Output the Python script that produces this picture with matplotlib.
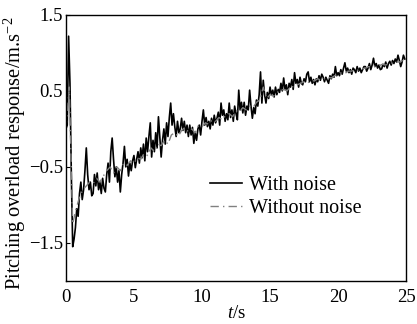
import numpy as np
import matplotlib
matplotlib.use("Agg")
import matplotlib.pyplot as plt

plt.rcParams['font.family'] = ['Liberation Serif', 'DejaVu Serif']
plt.rcParams['mathtext.fontset'] = 'custom'
plt.rcParams['mathtext.rm'] = 'Liberation Serif'
plt.rcParams['mathtext.it'] = 'Liberation Serif:italic'

# with noise, sampled every 0.1 s (one row per second)
with_noise = [
    0.00, 0.05, 1.22, 0.60, -0.60, -1.55, -1.45, -1.30, -1.05, -1.15,
    -0.85, -0.70, -0.93, -0.80, -0.55, -0.25, -0.60, -0.80, -0.70, -0.88,
    -0.85, -0.60, -0.75, -0.58, -0.80, -0.70, -0.85, -0.65, -0.78, -0.83,
    -0.60, -0.45, -0.70, -0.30, -0.12, -0.40, -0.63, -0.50, -0.70, -0.55,
    -0.83, -0.60, -0.45, -0.23, -0.50, -0.40, -0.62, -0.45, -0.55, -0.42,
    -0.35, -0.51, -0.40, -0.30, -0.45, -0.25, -0.38, -0.20, -0.42, -0.12,
    -0.30, -0.10, 0.08, -0.37, -0.15, -0.30, -0.05, -0.25, 0.16, -0.10,
    -0.37, -0.15, 0.00, -0.20, 0.08, -0.10, 0.15, 0.34, 0.05, 0.20,
    0.03, -0.10, 0.10, -0.05, 0.00, 0.14, -0.02, 0.10, -0.05, 0.05,
    -0.10, 0.05, -0.08, 0.02, -0.19, -0.05, -0.15, 0.00, 0.05, -0.08,
    0.10, 0.25, 0.05, 0.15, 0.03, 0.10, 0.00, 0.14, 0.05, 0.18,
    0.08, 0.14, 0.22, 0.05, 0.34, 0.18, 0.25, 0.10, 0.20, 0.12,
    0.34, 0.15, 0.25, 0.10, 0.30, 0.20, 0.12, 0.51, 0.25, 0.35,
    0.21, 0.35, 0.18, 0.30, 0.25, 0.51, 0.30, 0.14, 0.28, 0.20,
    0.38, 0.30, 0.45, 0.75, 0.34, 0.64, 0.45, 0.34, 0.48, 0.40,
    0.55, 0.45, 0.51, 0.42, 0.55, 0.45, 0.52, 0.48, 0.60, 0.50,
    0.67, 0.52, 0.58, 0.45, 0.60, 0.55, 0.65, 0.52, 0.74, 0.60,
    0.65, 0.55, 0.68, 0.60, 0.58, 0.66, 0.62, 0.72, 0.75, 0.62,
    0.68, 0.60, 0.65, 0.58, 0.66, 0.62, 0.70, 0.64, 0.72, 0.68,
    0.62, 0.68, 0.64, 0.60, 0.70, 0.66, 0.72, 0.68, 0.82, 0.70,
    0.74, 0.70, 0.78, 0.72, 0.80, 0.87, 0.76, 0.80, 0.74, 0.78,
    0.72, 0.80, 0.78, 0.74, 0.82, 0.76, 0.80, 0.74, 0.78, 0.82,
    0.82, 0.76, 0.80, 0.86, 0.78, 0.84, 0.93, 0.82, 0.86, 0.80,
    0.84, 0.78, 0.79, 0.85, 0.82, 0.88, 0.80, 0.86, 0.89, 0.84,
    0.90, 0.86, 0.92, 0.88, 0.97, 0.90, 0.82, 0.88, 0.97, 0.92,
]
t_noise = np.arange(len(with_noise)) * 0.1

# without noise, sampled every 0.25 s
without_noise = [
    0.00, 0.55, -1.25, -1.05, -0.90, -0.80, -0.75, -0.70, -0.72, -0.65,
    -0.70, -0.62, -0.55, -0.50, -0.58, -0.50, -0.55, -0.45, -0.48, -0.42,
    -0.45, -0.38, -0.40, -0.32, -0.35, -0.25, -0.30, -0.20, -0.22, -0.15,
    -0.20, -0.08, -0.05, -0.10, -0.02, 0.02, -0.04, 0.00, -0.05, 0.05,
    0.03, 0.08, 0.06, 0.12, 0.10, 0.15, 0.12, 0.18, 0.20, 0.16,
    0.24, 0.22, 0.28, 0.25, 0.30, 0.28, 0.35, 0.38, 0.55, 0.40,
    0.45, 0.43, 0.48, 0.50, 0.52, 0.50, 0.56, 0.55, 0.58, 0.60,
    0.62, 0.60, 0.64, 0.63, 0.66, 0.64, 0.66, 0.68, 0.67, 0.70,
    0.72, 0.74, 0.73, 0.76, 0.76, 0.78, 0.77, 0.79, 0.80, 0.82,
    0.81, 0.83, 0.83, 0.85, 0.84, 0.86, 0.87, 0.88, 0.88, 0.90,
]
t_clean = np.arange(len(without_noise)) * 0.25

fig = plt.figure(figsize=(4.17, 3.24), dpi=100)
ax = fig.add_axes([0.158, 0.133, 0.816, 0.821])

ax.plot(t_noise, with_noise, color='black', lw=1.2, label='With noise')
ax.plot(t_clean, without_noise, color='#808080', lw=1.0, ls=(0, (6, 3, 1, 3)),
        label='Without noise')

ax.set_xlim(0, 25)
ax.set_ylim(-2.0, 1.5)
ax.set_xticks([0, 5, 10, 15, 20, 25])
ax.set_yticks([1.5, 0.5, -0.5, -1.5])
ax.set_yticklabels(['1.5', '0.5', '\u22120.5', '\u22121.5'])
ax.tick_params(axis='y', direction='in', length=3, labelsize=13.5, pad=2)
ax.tick_params(axis='x', length=0, labelsize=13.5, pad=6)
for s in ax.spines.values():
    s.set_linewidth(1.0)

ax.set_xlabel('$t$/s', fontsize=13.5, labelpad=-1)
ax.set_ylabel('Pitching overload response/m.s$^{-2}$', fontsize=14.8)
ax.yaxis.set_label_coords(-0.11, 0.48)

ax.legend(loc='upper left', bbox_to_anchor=(0.40, 0.424), frameon=False,
          fontsize=14.5, handlelength=1.6, handletextpad=0.35,
          labelspacing=0.2, borderaxespad=0)

fig.savefig('out.png', dpi=100)
